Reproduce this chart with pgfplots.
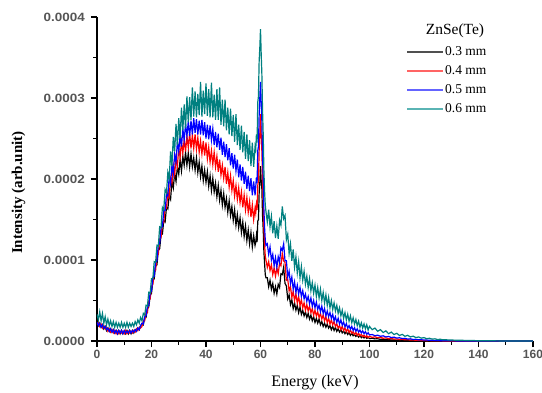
\documentclass[border=0pt]{standalone}
\usepackage{fontspec}
\usepackage{pgfplots}
\usepackage{pgfplotstable}
\pgfplotsset{compat=1.18}
\setmainfont{Liberation Serif}
\newfontfamily\tickfont{Liberation Sans}
\definecolor{tealc}{RGB}{0,128,128}
\definecolor{bluec}{RGB}{0,0,255}
\definecolor{redc}{RGB}{255,0,0}
\definecolor{blackc}{RGB}{0,0,0}
\definecolor{legblue}{RGB}{100,100,255}
\definecolor{legred}{RGB}{255,100,100}
\definecolor{legteal}{RGB}{90,180,180}
\definecolor{leggray}{RGB}{80,80,80}
\definecolor{tickgray}{RGB}{85,85,85}
% intensities in units of 1e-4 (tick labels show the true values)
\pgfplotstableread{
x k r b t
0 .24 .20 .23 .33
0.5 .19 .23 .19 .26
1 .22 .18 .22 .36
1.5 .17 .21 .17 .25
2 .20 .16 .20 .34
2.5 .15 .19 .16 .22
3 .18 .15 .18 .30
3.5 .13 .17 .14 .20
4 .16 .12 .16 .27
4.5 .12 .15 .12 .19
5 .15 .11 .15 .25
5.5 .11 .14 .11 .18
6 .14 .10 .14 .24
6.5 .10 .13 .10 .17
7 .13 .09 .13 .23
7.5 .09 .12 .09 .17
8 .13 .09 .13 .22
8.5 .09 .12 .10 .17
9 .13 .10 .13 .23
9.5 .09 .12 .09 .17
10 .12 .09 .13 .22
10.5 .09 .13 .10 .17
11 .13 .09 .12 .23
11.5 .09 .12 .10 .17
12 .13 .10 .13 .22
12.5 .09 .12 .10 .18
13 .13 .10 .13 .22
13.5 .10 .13 .11 .18
14 .14 .11 .14 .24
14.5 .12 .15 .12 .20
15 .16 .13 .16 .26
15.5 .14 .17 .14 .22
16 .19 .16 .19 .29
16.5 .21 .18 .22 .25
17 .20 .25 .21 .34
17.5 .29 .25 .30 .32
18 .29 .35 .31 .44
18.5 .40 .35 .42 .43
19 .42 .49 .44 .60
19.5 .56 .52 .59 .59
20 .59 .67 .62 .77
20.5 .74 .70 .78 .77
21 .77 .86 .80 .98
21.5 .93 .87 .97 .97
22 .94 1.05 .99 1.18
22.5 1.12 1.07 1.19 1.17
23 1.14 1.26 1.20 1.41
23.5 1.31 1.28 1.40 1.40
24 1.32 1.46 1.41 1.65
24.5 1.49 1.46 1.61 1.62
25 1.47 1.65 1.61 1.87
25.5 1.65 1.64 1.81 1.83
26 1.63 1.83 1.79 2.08
26.5 1.80 1.78 2.03 2.00
27 1.75 2.01 1.94 2.34
27.5 1.97 1.95 2.17 2.16
28 1.89 2.17 2.07 2.52
28.5 2.07 2.06 2.30 2.34
29 1.97 2.26 2.21 2.68
29.5 2.15 2.16 2.46 2.42
30 2.06 2.38 2.34 2.75
30.5 2.24 2.27 2.54 2.50
31 2.10 2.46 2.40 2.88
31.5 2.28 2.32 2.62 2.60
32 2.17 2.49 2.48 2.92
32.5 2.33 2.34 2.68 2.63
33 2.17 2.53 2.53 3.02
33.5 2.32 2.39 2.71 2.70
34 2.15 2.56 2.53 3.01
34.5 2.31 2.38 2.72 2.73
35 2.15 2.54 2.55 3.13
35.5 2.26 2.38 2.75 2.77
36 2.11 2.55 2.57 3.08
36.5 2.26 2.37 2.74 2.76
37 2.08 2.51 2.55 3.05
37.5 2.21 2.33 2.72 2.79
38 2.03 2.47 2.55 3.20
38.5 2.16 2.31 2.73 2.77
39 1.98 2.47 2.54 3.09
39.5 2.11 2.29 2.70 2.80
40 1.96 2.45 2.50 3.18
40.5 2.09 2.25 2.67 2.78
41 1.91 2.39 2.49 3.11
41.5 2.04 2.21 2.66 2.76
42 1.86 2.35 2.48 3.19
42.5 2.01 2.18 2.62 2.76
43 1.84 2.33 2.42 3.04
43.5 1.95 2.15 2.58 2.73
44 1.78 2.28 2.39 3.11
44.5 1.92 2.09 2.56 2.73
45 1.74 2.24 2.36 3.13
45.5 1.86 2.05 2.51 2.67
46 1.68 2.17 2.30 2.98
46.5 1.82 2.01 2.46 2.65
47 1.65 2.15 2.27 2.98
47.5 1.76 1.94 2.43 2.60
48 1.59 2.08 2.23 2.88
48.5 1.73 1.90 2.38 2.55
49 1.55 2.04 2.17 2.87
49.5 1.66 1.86 2.32 2.53
50 1.49 1.98 2.13 2.79
50.5 1.62 1.79 2.30 2.46
51 1.43 1.92 2.10 2.80
51.5 1.56 1.75 2.24 2.42
52 1.40 1.89 2.02 2.67
52.5 1.52 1.71 2.18 2.36
53 1.34 1.84 1.98 2.66
53.5 1.47 1.65 2.15 2.33
54 1.29 1.80 1.94 2.58
54.5 1.42 1.62 2.09 2.25
55 1.24 1.77 1.88 2.55
55.5 1.37 1.59 2.04 2.22
56 1.20 1.72 1.85 2.48
56.5 1.34 1.53 2.01 2.16
57 1.16 1.68 1.80 2.45
57.5 1.30 1.50 1.97 2.15
58 1.18 1.64 1.80 2.40
58.25 1.22 1.58 1.90 2.36
58.5 1.30 1.68 2.02 2.55
58.75 1.22 1.62 1.95 2.45
59 1.48 1.92 2.35 2.95
59.25 1.50 1.98 2.40 3.02
59.5 1.82 2.35 2.78 3.45
59.75 1.95 2.55 3.00 3.62
60 2.16 2.80 3.20 3.85
60.25 1.98 2.55 2.95 3.55
60.5 1.88 2.35 2.72 3.30
60.75 1.55 1.98 2.30 2.85
61 1.38 1.72 2.02 2.55
61.25 1.10 1.40 1.62 2.10
61.5 0.96 1.20 1.40 1.85
61.75 0.82 1.05 1.25 1.68
62 0.78 1.00 1.18 1.60
62.5 .78 .91 1.20 1.47
63 .67 .98 1.07 1.62
63.5 .75 .87 1.16 1.41
64 .64 .94 1.00 1.54
64.5 .71 .82 1.07 1.33
65 .59 .90 .93 1.48
65.5 .67 .80 1.03 1.27
66 .58 .90 .91 1.42
66.5 .70 .83 1.04 1.26
67 .66 .96 .97 1.49
67.5 .83 .93 1.15 1.43
68 .82 1.08 1.12 1.66
68.5 .91 .99 1.20 1.51
69 .71 .97 .99 1.55
69.5 .68 .75 .99 1.25
70 .52 .76 .79 1.32
70.5 .57 .62 .86 1.08
71 .45 .67 .71 1.20
71.5 .51 .54 .79 .99
72 .40 .61 .64 1.13
72.5 .47 .50 .73 .91
73 .38 .58 .60 1.04
73.5 .44 .47 .69 .84
74 .35 .55 .58 .98
74.5 .42 .44 .66 .78
75 .33 .51 .55 .92
75.5 .38 .41 .62 .75
76 .31 .47 .52 .86
76.5 .36 .38 .58 .70
77 .29 .45 .49 .80
77.5 .34 .37 .55 .66
78 .27 .43 .46 .77
78.5 .32 .35 .53 .62
79 .25 .40 .43 .72
79.5 .30 .32 .50 .59
80 .23 .38 .41 .69
80.5 .28 .31 .48 .55
81 .22 .36 .39 .66
81.5 .27 .29 .44 .53
82 .20 .34 .36 .64
82.5 .24 .27 .43 .50
83 .18 .32 .34 .60
83.5 .22 .25 .40 .47
84 .17 .30 .31 .57
84.5 .21 .23 .37 .44
85 .16 .28 .30 .54
85.5 .19 .21 .35 .41
86 .14 .26 .28 .50
86.5 .18 .20 .33 .39
87 .13 .24 .25 .47
87.5 .17 .18 .30 .37
88 .12 .21 .23 .44
88.5 .15 .16 .28 .34
89 .11 .19 .21 .41
89.5 .14 .14 .26 .31
90 .10 .18 .195 .38
90.5 .125 .13 .235 .28
91 .09 .16 .175 .35
91.5 .115 .115 .215 .26
92 .08 .15 .16 .33
92.5 .105 .105 .19 .245
93 .07 .135 .145 .31
93.5 .095 .095 .18 .225
94 .065 .115 .13 .285
94.5 .08 .08 .165 .21
95 .056 .105 .12 .265
95.5 .072 .07 .15 .19
96 .048 .095 .11 .245
96.5 .065 .063 .135 .17
97 .042 .082 .10 .225
97.5 .059 .056 .125 .16
98 .038 .072 .09 .21
98.5 .051 .048 .115 .15
99 .032 .065 .083 .20
99.5 .045 .042 .102 .135
100 .03 .058 .075 .18
101 .034 .045 .08 .14
102 .026 .052 .065 .16
103 .028 .040 .072 .12
104 .020 .045 .058 .14
105 .022 .034 .064 .105
106 .015 .038 .050 .125
107 .017 .028 .056 .09
108 .012 .031 .043 .11
109 .013 .023 .048 .08
110 .009 .026 .036 .095
111 .010 .018 .040 .068
112 .007 .021 .030 .082
113 .008 .014 .033 .058
114 .005 .016 .024 .07
115 .006 .011 .027 .05
116 .004 .013 .019 .06
117 .004 .008 .021 .042
118 .003 .010 .015 .05
119 .003 .006 .016 .035
120 .002 .007 .011 .042
121 .002 .004 .012 .028
122 .001 .005 .008 .034
123 .001 .003 .009 .023
124 .001 .003 .006 .027
125 0 .002 .006 .018
126 0 .002 .004 .022
127 0 .001 .004 .014
128 0 .001 .003 .017
129 0 .001 .003 .011
130 0 0 .002 .013
132 0 0 .001 .008
134 0 0 .001 .009
136 0 0 0 .005
138 0 0 0 .006
140 0 0 0 .003
142 0 0 0 .004
144 0 0 0 .002
146 0 0 0 .002
148 0 0 0 .001
150 0 0 0 .001
155 0 0 0 0
160 0 0 0 0
}\spec

\begin{document}
\begin{tikzpicture}
\path[use as bounding box] (-97pt,-51pt) rectangle (445pt,341pt);
\begin{axis}[
  scale only axis, width=436pt, height=324pt,
  xmin=0, xmax=160, ymin=0, ymax=4,
  axis x line*=bottom, axis y line*=left,
  axis line style={line width=1.3pt, -},
  xtick={0,20,40,60,80,100,120,140,160},
  xticklabels={0,20,40,60,80,100,120,140,160},
  minor x tick num=1,
  ytick={0,1,2,3,4},
  yticklabels={0.0000,0.0001,0.0002,0.0003,0.0004},
  minor y tick num=1,
  tick align=outside,
  major tick length=6pt, minor tick length=3.5pt,
  tick style={line width=1.2pt, black},
  /pgf/number format/assume math mode=true,
  ticklabel style={font=\fontsize{12}{14}\selectfont\tickfont\bfseries, text=tickgray},
  yticklabel style={xscale=1.12, xshift=-2pt},
  every axis x label/.style={at={(axis description cs:0.5,0)}, anchor=center, yshift=-42pt, font=\fontsize{16}{18}\selectfont},
  every axis y label/.style={at={(axis description cs:-0.18,0.458)}, anchor=center, rotate=90, font=\fontsize{15}{18}\selectfont\bfseries},
  xlabel={Energy (keV)},
  ylabel={Intensity (arb.unit)},
  legend style={at={(rel axis cs:0.711,0.917)}, anchor=north west, draw=none, fill=none,
    font=\fontsize{13.5}{15}\selectfont, row sep=4pt, inner sep=0pt,
    nodes={inner sep=2pt, text height=9pt, text depth=2pt}},
  legend cell align=left,
  legend image code/.code={\fill[#1] (0pt,-1.05pt) rectangle (36pt,1.05pt);},
  clip=true,
]
\addplot[color=blackc, line width=1.2pt, forget plot] table[x=x, y=k]{\spec};
\addplot[color=redc, line width=1.2pt, forget plot] table[x=x, y=r]{\spec};
\addplot[color=bluec, line width=1.2pt, forget plot] table[x=x, y=b]{\spec};
\addplot[color=tealc, line width=1.2pt, forget plot] table[x=x, y=t]{\spec};
\addlegendimage{fill=leggray, draw=none}
\addlegendentry{0.3 mm}
\addlegendimage{fill=legred, draw=none}
\addlegendentry{0.4 mm}
\addlegendimage{fill=legblue, draw=none}
\addlegendentry{0.5 mm}
\addlegendimage{fill=legteal, draw=none}
\addlegendentry{0.6 mm}
\node[font=\fontsize{15.5}{18}\selectfont] at (rel axis cs:0.821,0.957) {ZnSe(Te)};
\end{axis}
\end{tikzpicture}
\end{document}
